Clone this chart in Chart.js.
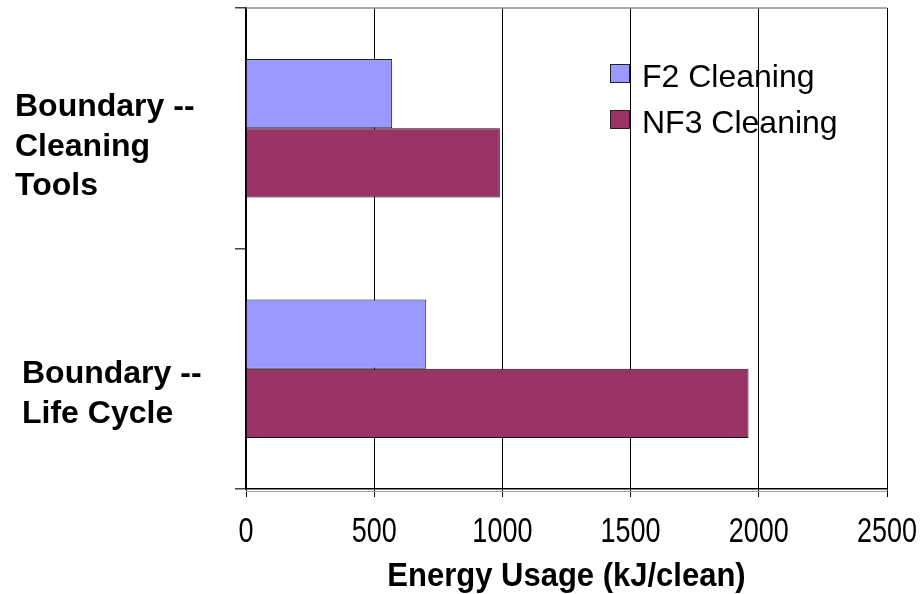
<!DOCTYPE html>
<html>
<head>
<meta charset="utf-8">
<script src="https://cdn.jsdelivr.net/npm/chart.js@4.4.1/dist/chart.umd.min.js"></script>
<style>
  html, body { margin: 0; padding: 0; background: #ffffff; }
  #wrap { width: 923px; height: 594px; position: relative; }
</style>
</head>
<body>
<div id="wrap"><canvas id="chart" width="923" height="594"></canvas></div>
<script>
// Energy used per chamber clean, by system boundary
const categories = [
  ["Boundary --", "Cleaning", "Tools"],
  ["Boundary --", "Life Cycle"]
];
const seriesNames = ["F2 Cleaning", "NF3 Cleaning"];
const f2Values = [570, 703];
const nf3Values = [990, 1960];
const xTicks = [0, 500, 1000, 1500, 2000, 2500];
const axisTitle = "Energy Usage (kJ/clean)";

const colors = ["#9999FF", "#993366"];
const FONT = "'Liberation Sans', Arial, sans-serif";

// Multi-line category captions drawn to the left of the plot
const categoryCaptions = {
  id: "categoryCaptions",
  afterDraw(chart, args, opts) {
    const ctx = chart.ctx;
    const y = chart.scales.y;
    const size = opts.size;
    const lh = opts.lineHeight;
    const cap = size * 0.716;
    ctx.save();
    ctx.font = "bold " + size + "px " + FONT;
    ctx.fillStyle = "#000";
    ctx.textAlign = "left";
    ctx.textBaseline = "alphabetic";
    categories.forEach((lines, i) => {
      const c = y.getPixelForValue(i) + opts.shift[i];
      lines.forEach((t, k) => {
        const base = c + (k - (lines.length - 1) / 2) * lh + cap / 2;
        ctx.fillText(t, opts.left[i], base);
      });
    });
    ctx.restore();
  }
};

// Value-axis numbers (slightly tall lettering) and the axis title
const valueAxisText = {
  id: "valueAxisText",
  afterDraw(chart, args, opts) {
    const ctx = chart.ctx;
    const x = chart.scales.x;
    const area = chart.chartArea;
    ctx.save();
    // thin grey shadow line under the value axis
    ctx.strokeStyle = "#a0a0a0";
    ctx.lineWidth = 1;
    ctx.beginPath();
    ctx.moveTo(area.left, area.bottom + 2.5);
    ctx.lineTo(area.right, area.bottom + 2.5);
    ctx.stroke();

    ctx.fillStyle = "#000";
    ctx.textAlign = "center";
    ctx.textBaseline = "middle";
    ctx.font = opts.tickSize + "px " + FONT;
    xTicks.forEach(v => {
      ctx.save();
      ctx.translate(x.getPixelForValue(v), opts.tickY);
      ctx.scale(1, opts.tickStretch);
      ctx.fillText(String(v), 0, 0);
      ctx.restore();
    });
    ctx.font = "bold " + opts.titleSize + "px " + FONT;
    ctx.save();
    ctx.translate((area.left + area.right) / 2, opts.titleY);
    ctx.scale(1, opts.titleStretch);
    ctx.fillText(axisTitle, 0, 0);
    ctx.restore();
    ctx.restore();
  }
};

// Legend box inside the plot area, plus the plot's top border
const insideLegend = {
  id: "insideLegend",
  afterDraw(chart, args, opts) {
    const ctx = chart.ctx;
    const area = chart.chartArea;
    ctx.save();
    ctx.strokeStyle = "#8c8c8c";
    ctx.lineWidth = 1.5;
    ctx.beginPath();
    ctx.moveTo(area.left, area.top);
    ctx.lineTo(area.right, area.top);
    ctx.stroke();

    ctx.font = opts.size + "px " + FONT;
    ctx.textAlign = "left";
    ctx.textBaseline = "alphabetic";
    chart.data.datasets.forEach((ds, i) => {
      const top = opts.top + i * opts.rowGap;
      ctx.fillStyle = ds.backgroundColor;
      ctx.fillRect(opts.left, top, opts.box, opts.box - 1);
      ctx.strokeStyle = "#222";
      ctx.lineWidth = 1;
      ctx.strokeRect(opts.left + 0.5, top + 0.5, opts.box - 1, opts.box - 2);
      ctx.fillStyle = "#000";
      ctx.fillText(ds.label, opts.left + 32, top + 23);
    });
    ctx.restore();
  }
};

new Chart(document.getElementById("chart"), {
  type: "bar",
  data: {
    labels: categories.map(l => l.join(" ")),
    datasets: [
      {
        label: seriesNames[0],
        data: f2Values,
        backgroundColor: colors[0],
        borderColor: "#222",
        borderWidth: 1
      },
      {
        label: seriesNames[1],
        data: nf3Values,
        backgroundColor: colors[1],
        borderColor: "#111",
        borderWidth: 1
      }
    ]
  },
  options: {
    indexAxis: "y",
    responsive: false,
    animation: false,
    devicePixelRatio: 1,
    categoryPercentage: 0.575,
    barPercentage: 1.0,
    layout: { autoPadding: false, padding: { left: 235, right: 36, top: 8, bottom: 97 } },
    plugins: {
      legend: { display: false },
      tooltip: { enabled: false },
      categoryCaptions: { size: 32, lineHeight: 39.6, shift: [16, 23], left: [15, 22] },
      valueAxisText: { tickSize: 27, tickY: 532, tickStretch: 1.3, titleSize: 31, titleY: 577, titleStretch: 1.05 },
      insideLegend: { left: 610, top: 64, box: 20, rowGap: 46, size: 32 }
    },
    scales: {
      x: {
        type: "linear",
        min: xTicks[0],
        max: xTicks[xTicks.length - 1],
        afterBuildTicks(scale) {
          scale.ticks = xTicks.map(v => ({ value: v }));
        },
        grid: {
          color: "#000",
          lineWidth: 1,
          tickLength: 8,
          drawTicks: true
        },
        border: { color: "#000", width: 1.5 },
        ticks: { display: false },
        title: { display: false }
      },
      y: {
        type: "category",
        grid: {
          display: true,
          drawOnChartArea: false,
          drawTicks: true,
          tickLength: 11,
          offset: true,
          color: "#444",
          lineWidth: 1.5
        },
        border: { color: "#000", width: 1.5 },
        ticks: { display: false }
      }
    }
  },
  plugins: [categoryCaptions, valueAxisText, insideLegend]
});
</script>
</body>
</html>
